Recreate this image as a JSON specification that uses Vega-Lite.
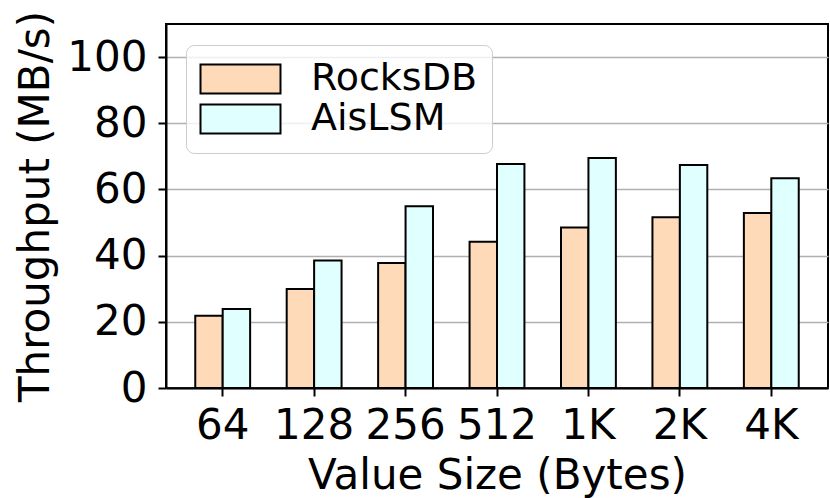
{
  "$schema": "https://vega.github.io/schema/vega-lite/v6.json",
  "width": 662,
  "height": 364,
  "autosize": {"type": "none"},
  "padding": {"left": 166, "top": 24, "right": 2, "bottom": 110},
  "config": {
    "font": "DejaVu Sans",
    "view": {"stroke": "black", "strokeWidth": 2},
    "axis": {
      "labelColor": "black",
      "titleColor": "black",
      "tickColor": "black",
      "tickWidth": 2,
      "tickSize": 8,
      "domainColor": "black",
      "domainWidth": 2,
      "labelFontSize": 42,
      "titleFontSize": 42,
      "titleFontWeight": "normal",
      "labelFont": "DejaVu Sans",
      "titleFont": "DejaVu Sans"
    }
  },
  "data": {
    "values": [
      {"size": "64", "system": "RocksDB", "throughput": 21.8},
      {"size": "64", "system": "AisLSM", "throughput": 23.9},
      {"size": "128", "system": "RocksDB", "throughput": 29.9},
      {"size": "128", "system": "AisLSM", "throughput": 38.5},
      {"size": "256", "system": "RocksDB", "throughput": 37.8},
      {"size": "256", "system": "AisLSM", "throughput": 54.9},
      {"size": "512", "system": "RocksDB", "throughput": 44.2},
      {"size": "512", "system": "AisLSM", "throughput": 67.7},
      {"size": "1K", "system": "RocksDB", "throughput": 48.5},
      {"size": "1K", "system": "AisLSM", "throughput": 69.5},
      {"size": "2K", "system": "RocksDB", "throughput": 51.6},
      {"size": "2K", "system": "AisLSM", "throughput": 67.4},
      {"size": "4K", "system": "RocksDB", "throughput": 52.9},
      {"size": "4K", "system": "AisLSM", "throughput": 63.4}
    ]
  },
  "mark": {"type": "bar", "stroke": "black", "strokeWidth": 2},
  "encoding": {
    "x": {
      "field": "size",
      "type": "nominal",
      "sort": null,
      "scale": {"paddingInner": 0.4, "paddingOuter": 0.32},
      "axis": {
        "title": "Value Size (Bytes)",
        "labelAngle": 0,
        "labelBaseline": "alphabetic",
        "labelPadding": 42,
        "titleBaseline": "alphabetic",
        "titleY": 100,
        "grid": false
      }
    },
    "xOffset": {"field": "system", "type": "nominal", "sort": ["RocksDB", "AisLSM"]},
    "y": {
      "field": "throughput",
      "type": "quantitative",
      "scale": {"domain": [0, 110], "nice": false},
      "axis": {
        "title": "Throughput (MB/s)",
        "values": [0, 20, 40, 60, 80, 100],
        "grid": true,
        "gridColor": "#b0b0b0",
        "gridWidth": 1.5,
        "labelPadding": 11,
        "titleAngle": -90,
        "titleX": -118,
        "titleY": 182,
        "titleAlign": "center",
        "titleBaseline": "alphabetic"
      }
    },
    "fill": {
      "field": "system",
      "type": "nominal",
      "scale": {"domain": ["RocksDB", "AisLSM"], "range": ["#FFDAB9", "#E0FFFF"]},
      "legend": {
        "title": null,
        "orient": "none",
        "legendX": 20,
        "legendY": 21,
        "symbolType": "M-1.3,-0.967H4.033V0.967H-1.3Z",
        "symbolSize": 900,
        "symbolStrokeColor": "black",
        "symbolStrokeWidth": 2,
        "symbolOpacity": 1,
        "labelFontSize": 38,
        "labelFont": "DejaVu Sans",
        "labelColor": "black",
        "labelLimit": 400,
        "labelOffset": 72,
        "padding": 15,
        "rowPadding": 2,
        "fillColor": "rgba(255,255,255,0.8)",
        "strokeColor": "#cccccc",
        "cornerRadius": 8
      }
    }
  }
}
